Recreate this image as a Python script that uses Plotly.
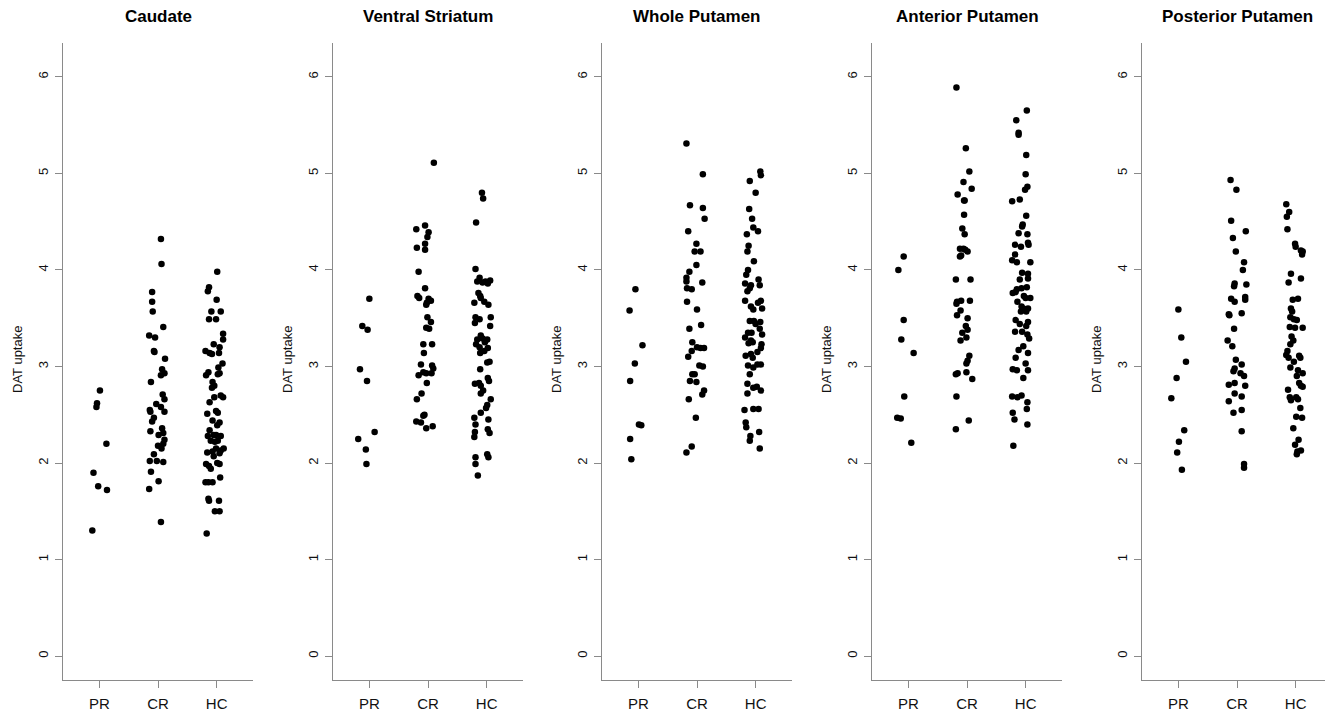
import plotly.graph_objects as go

regions = ["Caudate", "Ventral Striatum", "Whole Putamen", "Anterior Putamen", "Posterior Putamen"]
groups = ["PR", "CR", "HC"]
y_ticks = [0, 1, 2, 3, 4, 5, 6]

# ---- Caudate ----
caudate_PR = [2.75, 2.62, 2.58, 2.20, 1.90, 1.76, 1.72, 1.30]
caudate_PR_jit = [0.01, -0.04, -0.05, 0.12, -0.10, -0.02, 0.13, -0.12]
caudate_CR = [4.32, 4.06, 3.77, 3.67, 3.57, 3.41, 3.32, 3.30, 3.16, 3.15,
              3.08, 2.97, 2.93, 2.91, 2.84, 2.71, 2.66, 2.61, 2.58, 2.55,
              2.53, 2.53, 2.47, 2.43, 2.36, 2.33, 2.31, 2.29, 2.24, 2.20,
              2.18, 2.15, 2.09, 2.02, 2.02, 2.01, 1.91, 1.81, 1.73, 1.39]
caudate_CR_jit = [0.05, 0.06, -0.10, -0.10, -0.09, 0.09, -0.15, -0.05, -0.07, -0.06,
                  0.12, 0.07, 0.11, 0.05, -0.12, 0.08, 0.11, -0.03, 0.05, -0.14,
                  -0.13, 0.11, -0.07, -0.10, 0.07, -0.13, 0.09, 0.01, 0.11, 0.09,
                  0.00, 0.06, -0.07, -0.14, -0.02, 0.09, -0.12, 0.01, -0.15, 0.05]
caudate_HC = [3.98, 3.82, 3.78, 3.69, 3.57, 3.57, 3.49, 3.49, 3.34, 3.28,
              3.23, 3.20, 3.16, 3.14, 3.13, 3.14, 3.03, 2.99, 2.94, 2.91,
              2.93, 2.92, 2.84, 2.80, 2.78, 2.70, 2.68, 2.68, 2.63, 2.54,
              2.51, 2.52, 2.44, 2.42, 2.39, 2.34, 2.28, 2.29, 2.29, 2.28,
              2.23, 2.23, 2.22, 2.11, 2.12, 2.15, 2.15, 2.13, 2.10, 2.07,
              1.99, 1.97, 1.94, 2.00, 1.99, 1.80, 1.80, 1.80, 1.85, 1.63,
              1.61, 1.61, 1.50, 1.50, 1.27]
caudate_HC_jit = [0.01, -0.13, -0.15, 0.00, -0.09, 0.07, -0.13, -0.01, 0.11, 0.11,
                  -0.05, 0.05, -0.19, -0.12, -0.08, 0.04, 0.10, 0.03, -0.14, -0.18,
                  0.05, 0.02, -0.07, -0.04, -0.08, 0.07, 0.11, -0.04, -0.12, -0.01,
                  -0.16, 0.02, -0.07, 0.05, 0.01, -0.12, -0.15, -0.05, -0.01, 0.07,
                  -0.10, 0.02, -0.03, -0.16, -0.07, -0.01, 0.12, 0.07, 0.05, -0.05,
                  -0.18, -0.13, -0.10, 0.01, 0.05, -0.19, -0.14, -0.07, 0.06, -0.14,
                  -0.13, 0.04, -0.03, 0.05, -0.17]

# ---- Ventral Striatum ----
vs_PR = [3.70, 3.42, 3.38, 2.97, 2.85, 2.32, 2.25, 2.14, 1.99]
vs_PR_jit = [0.00, -0.12, -0.03, -0.16, -0.04, 0.09, -0.19, -0.06, -0.05]
vs_CR = [5.11, 4.42, 4.46, 4.39, 4.34, 4.27, 4.23, 4.21, 3.98, 3.81,
         3.73, 3.71, 3.70, 3.68, 3.66, 3.64, 3.51, 3.46, 3.40, 3.39,
         3.23, 3.23, 3.14, 3.02, 3.01, 2.98, 2.91, 2.94, 2.93, 2.93,
         2.83, 2.72, 2.66, 2.50, 2.49, 2.43, 2.42, 2.36, 2.38]
vs_CR_jit = [0.10, -0.20, -0.05, 0.01, -0.01, -0.05, -0.19, -0.05, -0.16, -0.05,
             -0.18, -0.15, 0.01, 0.05, -0.02, -0.03, -0.01, 0.05, -0.03, 0.02,
             -0.08, 0.07, -0.07, -0.12, 0.07, 0.09, -0.16, -0.08, -0.03, 0.06,
             -0.02, -0.11, -0.19, -0.06, -0.08, -0.20, -0.12, -0.03, 0.08]
vs_HC = [4.80, 4.74, 4.49, 4.01, 3.92, 3.88, 3.87, 3.88, 3.89, 3.86,
         3.76, 3.73, 3.71, 3.66, 3.67, 3.64, 3.51, 3.49, 3.51, 3.45,
         3.42, 3.32, 3.28, 3.29, 3.28, 3.23, 3.25, 3.20, 3.19, 3.16,
         3.14, 3.04, 3.05, 2.97, 2.88, 2.85, 2.82, 2.83, 2.80, 2.75,
         2.72, 2.66, 2.57, 2.52, 2.60, 2.47, 2.45, 2.40, 2.32, 2.35,
         2.31, 2.27, 2.09, 2.06, 2.06, 1.99, 1.87]
vs_HC_jit = [-0.08, -0.06, -0.18, -0.19, -0.12, -0.16, -0.07, -0.02, 0.06, 0.02,
             -0.14, -0.11, -0.10, -0.21, -0.04, 0.03, -0.19, -0.12, 0.07, -0.20,
             0.06, -0.10, -0.16, -0.07, 0.01, -0.18, -0.03, -0.12, 0.02, -0.04,
             -0.11, 0.01, 0.05, -0.11, 0.02, 0.04, -0.20, -0.13, -0.10, -0.06,
             -0.10, 0.07, -0.01, -0.10, 0.01, -0.21, 0.03, -0.19, -0.20, 0.02,
             0.05, -0.21, 0.01, 0.03, -0.19, -0.19, -0.15]

# ---- Whole Putamen ----
wp_PR = [3.80, 3.58, 3.22, 3.03, 2.85, 2.40, 2.39, 2.25, 2.04]
wp_PR_jit = [-0.05, -0.15, 0.07, -0.06, -0.14, 0.01, 0.05, -0.14, -0.12]
wp_CR = [5.31, 4.99, 4.67, 4.64, 4.53, 4.40, 4.27, 4.19, 4.19, 4.05,
         3.98, 3.92, 3.88, 3.87, 3.81, 3.80, 3.67, 3.59, 3.43, 3.39,
         3.25, 3.19, 3.20, 3.19, 3.16, 3.10, 3.01, 3.00, 2.92, 2.92,
         2.85, 2.84, 2.75, 2.71, 2.66, 2.47, 2.17, 2.11]
wp_CR_jit = [-0.18, 0.10, -0.12, 0.10, 0.13, -0.15, -0.01, -0.04, 0.06, -0.01,
             -0.13, -0.18, -0.18, 0.09, -0.17, -0.09, -0.17, 0.00, 0.07, -0.13,
             -0.08, 0.12, 0.00, 0.06, -0.09, -0.15, 0.04, 0.10, -0.08, -0.04,
             -0.12, -0.01, 0.12, 0.09, -0.14, -0.02, -0.09, -0.18]
wp_HC = [5.02, 4.98, 4.92, 4.80, 4.63, 4.53, 4.44, 4.40, 4.37, 4.25,
         4.19, 4.09, 4.00, 3.95, 3.90, 3.86, 3.84, 3.81, 3.78, 3.84,
         3.68, 3.68, 3.66, 3.62, 3.59, 3.60, 3.47, 3.47, 3.46, 3.44,
         3.39, 3.35, 3.35, 3.33, 3.30, 3.27, 3.24, 3.25, 3.23, 3.19,
         3.15, 3.11, 3.13, 3.09, 3.01, 2.99, 3.02, 3.02, 2.92, 2.82,
         2.78, 2.79, 2.75, 2.72, 2.55, 2.56, 2.56, 2.42, 2.37, 2.32,
         2.28, 2.23, 2.15]
wp_HC_jit = [0.08, 0.09, -0.10, 0.00, -0.11, -0.06, -0.04, 0.04, -0.15, -0.12,
             -0.14, -0.03, -0.13, -0.16, 0.05, -0.18, -0.08, -0.10, -0.14, 0.07,
             -0.18, 0.09, 0.04, -0.08, -0.04, 0.11, -0.10, -0.03, 0.08, 0.00,
             0.07, -0.13, -0.07, 0.11, -0.18, -0.08, -0.12, -0.05, 0.10, 0.09,
             0.03, -0.17, -0.08, -0.05, -0.13, -0.04, 0.03, 0.09, -0.10, -0.14,
             -0.04, 0.02, 0.09, -0.14, -0.19, -0.04, 0.05, -0.17, -0.16, 0.06,
             -0.09, -0.10, 0.07]

# ---- Anterior Putamen ----
ap_PR = [4.14, 4.00, 3.48, 3.28, 3.14, 2.69, 2.47, 2.46, 2.21]
ap_PR_jit = [-0.08, -0.17, -0.08, -0.12, 0.09, -0.07, -0.19, -0.13, 0.05]
ap_CR = [5.89, 5.26, 5.02, 4.91, 4.84, 4.78, 4.72, 4.72, 4.57, 4.43,
         4.37, 4.22, 4.22, 4.21, 4.19, 4.15, 4.14, 3.90, 3.90, 3.67,
         3.68, 3.68, 3.65, 3.58, 3.53, 3.50, 3.42, 3.38, 3.35, 3.30,
         3.27, 3.11, 3.06, 3.03, 2.92, 2.93, 2.94, 2.87, 2.69, 2.44,
         2.35]
ap_CR_jit = [-0.18, -0.02, 0.04, -0.06, 0.08, -0.16, -0.05, -0.04, -0.05, -0.08,
             -0.04, -0.12, -0.06, -0.03, 0.01, -0.10, -0.12, -0.19, 0.06, -0.17,
             -0.10, 0.05, -0.18, -0.11, -0.17, 0.01, -0.02, 0.01, -0.08, -0.01,
             -0.11, 0.04, 0.01, -0.01, -0.19, -0.16, -0.01, 0.09, -0.18, 0.03,
             -0.19]
ap_HC = [5.65, 5.55, 5.42, 5.40, 5.19, 4.99, 4.86, 4.83, 4.71, 4.73,
         4.56, 4.47, 4.45, 4.38, 4.37, 4.26, 4.24, 4.28, 4.26, 4.16,
         4.10, 4.08, 4.08, 3.97, 3.96, 3.90, 3.91, 3.80, 3.81, 3.76,
         3.77, 3.82, 3.67, 3.73, 3.71, 3.71, 3.62, 3.60, 3.60, 3.57,
         3.57, 3.48, 3.44, 3.46, 3.42, 3.36, 3.36, 3.33, 3.29, 3.21,
         3.17, 3.14, 3.09, 3.03, 2.97, 2.96, 2.96, 2.88, 2.69, 2.68,
         2.70, 2.63, 2.56, 2.52, 2.45, 2.40, 2.18]
ap_HC_jit = [0.02, -0.16, -0.12, -0.12, 0.01, 0.00, 0.03, -0.01, -0.23, -0.10,
             0.01, -0.05, -0.06, -0.12, 0.03, -0.18, -0.08, 0.04, 0.05, -0.18,
             -0.23, -0.15, 0.08, -0.06, 0.04, -0.10, 0.04, -0.15, -0.07, -0.22,
             -0.17, 0.02, -0.14, -0.03, 0.00, 0.08, -0.07, -0.04, 0.04, 0.01,
             -0.08, -0.17, -0.10, 0.04, 0.01, -0.18, -0.06, 0.03, 0.06, -0.04,
             -0.12, 0.04, -0.17, 0.00, -0.22, -0.15, 0.04, -0.04, -0.23, -0.14,
             -0.07, 0.03, 0.02, -0.22, -0.19, 0.03, -0.21]

# ---- Posterior Putamen ----
pp_PR = [3.59, 3.30, 3.05, 2.88, 2.67, 2.34, 2.22, 2.11, 1.93]
pp_PR_jit = [0.00, 0.05, 0.13, -0.03, -0.12, 0.10, 0.01, -0.02, 0.06]
pp_CR = [4.93, 4.83, 4.51, 4.40, 4.33, 4.19, 4.08, 4.00, 3.86, 3.83,
         3.85, 3.70, 3.67, 3.72, 3.69, 3.54, 3.53, 3.55, 3.39, 3.27,
         3.21, 3.07, 3.02, 2.98, 2.95, 2.93, 2.90, 2.81, 2.83, 2.80,
         2.72, 2.69, 2.64, 2.52, 2.55, 2.33, 1.99, 1.95]
pp_CR_jit = [-0.11, -0.01, -0.10, 0.15, -0.07, -0.02, 0.12, 0.10, -0.04, -0.05,
             0.16, -0.10, -0.04, 0.14, 0.14, -0.14, -0.13, 0.08, -0.05, -0.16,
             -0.08, -0.02, 0.08, -0.04, -0.06, 0.06, 0.12, -0.14, -0.04, 0.14,
             -0.04, 0.08, -0.14, -0.06, 0.08, 0.08, 0.12, 0.12]
pp_HC = [4.68, 4.60, 4.55, 4.42, 4.27, 4.24, 4.20, 4.19, 4.16, 3.96,
         3.87, 3.91, 3.69, 3.70, 3.60, 3.57, 3.51, 3.49, 3.48, 3.41,
         3.40, 3.40, 3.31, 3.27, 3.23, 3.16, 3.12, 3.09, 3.11, 3.09,
         3.05, 2.99, 2.96, 2.93, 2.90, 2.83, 2.80, 2.79, 2.76, 2.68,
         2.65, 2.68, 2.66, 2.57, 2.48, 2.47, 2.36, 2.24, 2.19, 2.13,
         2.12, 2.09]
pp_HC_jit = [-0.16, -0.11, -0.15, -0.14, -0.01, 0.00, 0.09, 0.12, 0.11, -0.08,
             -0.12, 0.09, -0.05, 0.04, -0.08, -0.06, -0.09, -0.03, 0.02, -0.10,
             -0.01, 0.12, -0.07, -0.04, -0.09, -0.14, -0.16, -0.12, 0.06, 0.08,
             -0.03, -0.09, 0.04, 0.12, 0.02, 0.06, 0.09, 0.12, -0.13, -0.10,
             -0.08, 0.01, 0.04, 0.08, 0.01, 0.11, -0.04, 0.05, -0.01, 0.09,
             0.03, 0.02]

panel_data = [
    [(caudate_PR, caudate_PR_jit), (caudate_CR, caudate_CR_jit), (caudate_HC, caudate_HC_jit)],
    [(vs_PR, vs_PR_jit), (vs_CR, vs_CR_jit), (vs_HC, vs_HC_jit)],
    [(wp_PR, wp_PR_jit), (wp_CR, wp_CR_jit), (wp_HC, wp_HC_jit)],
    [(ap_PR, ap_PR_jit), (ap_CR, ap_CR_jit), (ap_HC, ap_HC_jit)],
    [(pp_PR, pp_PR_jit), (pp_CR, pp_CR_jit), (pp_HC, pp_HC_jit)],
]

# The page body has an 8px default margin, so the figure is placed 8px in.
OFF = 8
W, H = 1333 - OFF, 712 - OFF
axis_left = [v - OFF for v in [63, 333, 602, 872, 1142]]
plot_w = 190
top_px, bottom_px = 43 - OFF, 682 - OFF
FONT = "Liberation Sans, Arial, sans-serif"
AXIS_COL = "#8a8a8a"

fig = go.Figure()
layout = {}
annotations = []
for i, region in enumerate(regions):
    xa = "x" if i == 0 else f"x{i+1}"
    ya = "y" if i == 0 else f"y{i+1}"
    for gi, (vals, jit) in enumerate(panel_data[i]):
        fig.add_trace(go.Scatter(
            x=[gi + 1 + j for j in jit], y=vals, mode="markers",
            marker=dict(size=6.5, color="black", line=dict(width=0)),
            xaxis=xa, yaxis=ya, showlegend=False, name=groups[gi],
        ))
    x0 = axis_left[i] / W
    x1 = (axis_left[i] + plot_w) / W
    layout["xaxis" if i == 0 else f"xaxis{i+1}"] = dict(
        domain=[x0, x1], range=[0.38, 3.62], anchor=ya,
        tickmode="array", tickvals=[1, 2, 3], ticktext=groups,
        ticks="outside", ticklen=7, tickwidth=1, tickcolor=AXIS_COL,
        showline=True, linecolor=AXIS_COL, linewidth=1,
        showgrid=False, zeroline=False, ticklabelstandoff=3,
        tickfont=dict(family=FONT, size=15, color="#111"),
    )
    layout["yaxis" if i == 0 else f"yaxis{i+1}"] = dict(
        domain=[(H - bottom_px) / H, (H - top_px) / H], range=[-0.248, 6.351], anchor=xa,
        tickmode="array", tickvals=y_ticks, ticktext=[str(t) for t in y_ticks],
        tickangle=-90, ticks="outside", ticklen=7, tickwidth=1, tickcolor=AXIS_COL,
        showline=True, linecolor=AXIS_COL, linewidth=1,
        showgrid=False, zeroline=False, ticklabelstandoff=2,
        tickfont=dict(family=FONT, size=13, color="#111"),
    )
    annotations.append(dict(
        text=f"<b>{region}</b>", x=(axis_left[i] + plot_w / 2) / W, y=1 - (17 - OFF) / H,
        xref="paper", yref="paper", showarrow=False, xanchor="center", yanchor="middle",
        font=dict(family=FONT, size=17, color="black"),
    ))
    annotations.append(dict(
        text="DAT uptake", x=(axis_left[i] - 45) / W, y=1 - (361 - OFF) / H,
        xref="paper", yref="paper", showarrow=False, xanchor="center", yanchor="middle",
        textangle=-90, font=dict(family=FONT, size=13, color="#111"),
    ))

fig.update_layout(
    width=W, height=H, margin=dict(l=0, r=0, t=0, b=0),
    paper_bgcolor="white", plot_bgcolor="white",
    annotations=annotations, **layout,
)
fig.write_html("out.html")
